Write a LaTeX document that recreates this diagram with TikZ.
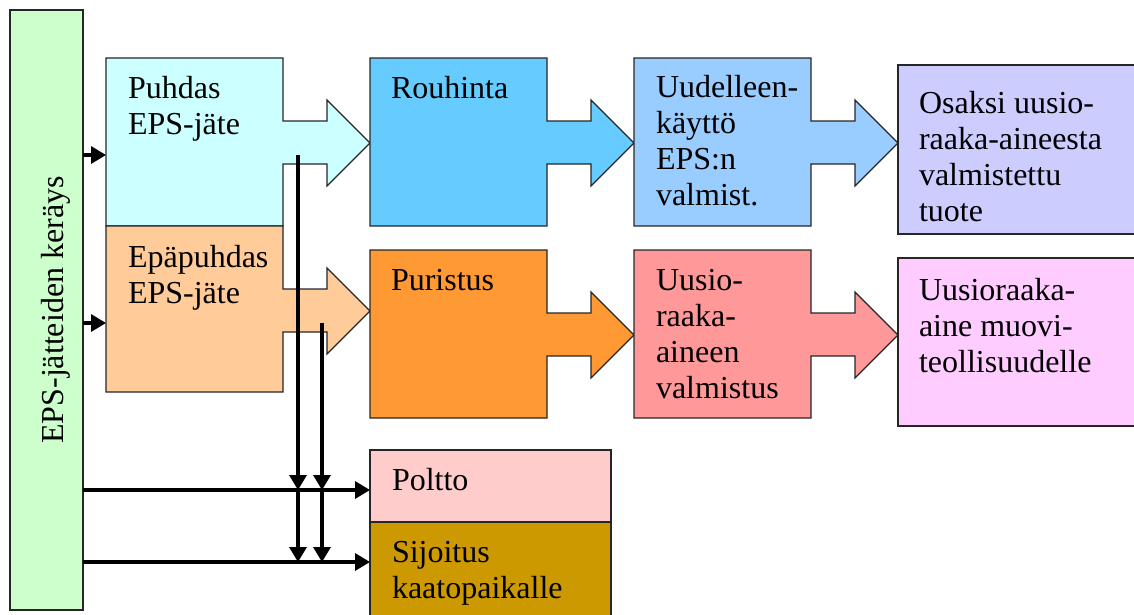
\documentclass[tikz,border=0pt]{standalone}
\usepackage{fontspec}
\setmainfont{Liberation Serif}
\usetikzlibrary{arrows.meta}

\definecolor{collectgreen}{HTML}{CCFFCC}
\definecolor{cleancyan}{HTML}{CCFFFF}
\definecolor{dirtypeach}{HTML}{FFCC99}
\definecolor{crushblue}{HTML}{66CCFF}
\definecolor{reuseblue}{HTML}{99CCFF}
\definecolor{productlav}{HTML}{CCCCFF}
\definecolor{pressorange}{HTML}{FF9933}
\definecolor{recyclered}{HTML}{FF9999}
\definecolor{rawpink}{HTML}{FFCCFF}
\definecolor{burnpink}{HTML}{FFCCCC}
\definecolor{landfillgold}{HTML}{CC9900}

\tikzset{
  boxline/.style={draw=black!85, line width=1.3pt, line join=miter},
  holder/.style={rectangle, inner sep=0pt, outer sep=0pt, draw=none},
  plainbox/.style={boxline, rectangle, inner sep=0pt, outer sep=0pt, anchor=north west},
  lbl/.style={anchor=base west, inner sep=0pt, outer sep=0pt,
    font=\fontsize{32}{36}\selectfont},
  conn/.style={line width=3.4pt, -{Triangle[length=15pt,width=17pt]}},
}

% text set line by line, baseline of the first line at the node's base
\newcommand\txtlines[1]{\parbox[t]{8cm}{\raggedright #1}}

% a box with a block arrow leaving its right side:
% name, colour, left, top, height
\newcommand\flowbox[5]{%
  \node[holder, minimum width=177pt, minimum height=#5pt, anchor=north west] (#1) at (#3,#4) {};
  \filldraw[boxline, fill=#2] (#1.north west) -- (#1.north east)
    -- ++(0,63) -- ++(44,0) -- ++(0,-21) -- ++(43,43) -- ++(-43,43)
    -- ++(0,-22) -- ++(-44,0) -- (#1.south east) -- (#1.south west) -- cycle;
}

\begin{document}
\begin{tikzpicture}[x=1pt, y=-1pt]
\useasboundingbox (0,0) rectangle (1134,614);

% collection bar
\node[plainbox, fill=collectgreen, minimum width=73pt, minimum height=600pt] (bar) at (10,10) {};
\node[lbl, anchor=base, rotate=90] (t-bar) at (63,310) {EPS-jätteiden keräys};

% process chain: clean waste
\flowbox{pu}{cleancyan}{106}{58}{168}
\flowbox{ro}{crushblue}{370}{58}{168}
\flowbox{uu}{reuseblue}{634}{58}{168}
\node[plainbox, fill=productlav, minimum width=242pt, minimum height=169pt] (os) at (898,65) {};

% process chain: dirty waste
\flowbox{ep}{dirtypeach}{106}{226}{166}
\flowbox{pr}{pressorange}{370}{250}{168}
\flowbox{us}{recyclered}{634}{250}{168}
\node[plainbox, fill=rawpink, minimum width=242pt, minimum height=168pt] (ur) at (898,258) {};

% final disposal
\node[plainbox, fill=burnpink, minimum width=241pt, minimum height=72pt] (po) at (370,450) {};
\node[plainbox, fill=landfillgold, minimum width=241pt, minimum height=110pt] (si) at (370,522) {};

% labels
\node[lbl] (t-pu) at (128,98) {\txtlines{Puhdas\\EPS-jäte}};
\node[lbl] (t-ro) at (391,98) {\txtlines{Rouhinta}};
\node[lbl] (t-uu) at (656,97) {\txtlines{Uudelleen-\\käyttö\\EPS:n\\valmist.}};
\node[lbl] (t-os) at (919,113) {\txtlines{Osaksi uusio-\\raaka-aineesta\\valmistettu\\tuote}};
\node[lbl] (t-ep) at (128,267) {\txtlines{Epäpuhdas\\EPS-jäte}};
\node[lbl] (t-pr) at (391,290) {\txtlines{Puristus}};
\node[lbl] (t-us) at (656,290) {\txtlines{Uusio-\\raaka-\\aineen\\valmistus}};
\node[lbl] (t-ur) at (919,300) {\txtlines{Uusioraaka-\\aine muovi-\\teollisuudelle}};
\node[lbl] (t-po) at (392,490) {\txtlines{Poltto}};
\node[lbl] (t-si) at (392,562) {\txtlines{Sijoitus\\kaatopaikalle}};

% connector levels and the starts of the rejection lines
\coordinate (cleanlvl) at (298,155);
\coordinate (dirtylvl) at (322,323);
\coordinate (burnlvl) at (0,490);
\coordinate (filllvl) at (0,562);

% collection feeds
\draw[conn] (bar.east |- cleanlvl) -- (pu.west |- cleanlvl);
\draw[conn] (bar.east |- dirtylvl) -- (ep.west |- dirtylvl);
\draw[conn] (bar.east |- burnlvl) -- (po.west |- burnlvl);
\draw[conn] (bar.east |- filllvl) -- (si.west |- filllvl);

% rejected fractions to burning and landfill
\draw[conn] (cleanlvl) -- (cleanlvl |- burnlvl);
\draw[conn] (cleanlvl |- burnlvl) -- (cleanlvl |- filllvl);
\draw[conn] (dirtylvl) -- (dirtylvl |- burnlvl);
\draw[conn] (dirtylvl |- burnlvl) -- (dirtylvl |- filllvl);
\end{tikzpicture}
\end{document}
